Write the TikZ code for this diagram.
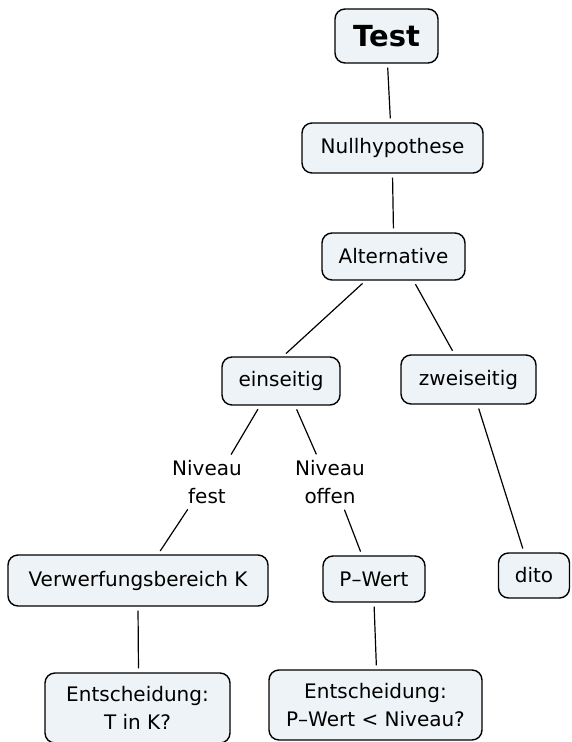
\documentclass[tikz,border=0pt]{standalone}
\usepackage{fontspec}
\setmainfont{DejaVu Sans}
\usetikzlibrary{calc}
\definecolor{boxfill}{RGB}{237,243,246}
\tikzset{
  conbox/.style={draw,line width=1.4pt,rounded corners=10pt,fill=boxfill,inner sep=0pt,
    align=center,font=\fontsize{20}{28}\selectfont},
  lbl/.style={inner sep=2pt,align=center,font=\fontsize{20}{28}\selectfont},
  link/.style={line width=1.2pt,shorten <=4pt,shorten >=4pt}
}

\begin{document}
\begin{tikzpicture}[x=1pt,y=-1pt]
  \useasboundingbox (0,0) rectangle (572,742);
  \clip (0,0) rectangle (572,742);
  \node[conbox,minimum width=103pt,minimum height=54pt,font=\fontsize{29}{32}\selectfont\bfseries] (test) at (386.5,36) {Test};
  \node[conbox,minimum width=181pt,minimum height=50pt] (null) at (392.5,148) {Nullhypothese};
  \node[conbox,minimum width=143pt,minimum height=47pt] (alt) at (393.5,256.5) {Alternative};
  \node[conbox,minimum width=118pt,minimum height=48pt] (eins) at (281,381) {einseitig};
  \node[conbox,minimum width=135pt,minimum height=49pt] (zwei) at (468.5,379.5) {zweiseitig};
  \node[lbl] (nfest) at (207,482) {Niveau\\fest};
  \node[lbl] (noffen) at (330,482) {Niveau\\offen};
  \node[conbox,minimum width=260pt,minimum height=51pt] (verw) at (138,580.5) {Verwerfungsbereich K};
  \node[conbox,minimum width=102pt,minimum height=46pt] (pwert) at (374,579) {P--Wert};
  \node[conbox,minimum width=71pt,minimum height=45pt] (dito) at (534,575.5) {dito};
  \node[conbox,minimum width=185pt,minimum height=70pt] (entk) at (137.5,708) {Entscheidung:\\T in K?};
  \node[conbox,minimum width=213pt,minimum height=70pt] (entp) at (375.5,705) {Entscheidung:\\P--Wert < Niveau?};

  \draw[link] ([xshift=1pt]test.south) -- ([xshift=-2pt]null.north);
  \draw[link] (null.south) -- (alt.north);
  \draw[link] ([xshift=-28pt]alt.south) -- ([xshift=2pt]eins.north);
  \draw[link] ([xshift=20pt]alt.south) -- ([xshift=-14pt]zwei.north);
  \draw[link] ([xshift=-21pt]eins.south) -- ([xshift=22pt]nfest.north);
  \draw[link] ([xshift=14pt]eins.south) -- ([xshift=-12pt]noffen.north);
  \draw[link] ([xshift=9pt]zwei.south) -- ([xshift=-10pt]dito.north);
  \draw[link] ([xshift=-17pt]nfest.south) -- ([xshift=20pt]verw.north);
  \draw[link] ([xshift=13pt]noffen.south) -- ([xshift=-12pt]pwert.north);
  \draw[link] (verw.south) -- ([xshift=1pt]entk.north);
  \draw[link] (pwert.south) -- ([xshift=1pt]entp.north);
\end{tikzpicture}
\end{document}
